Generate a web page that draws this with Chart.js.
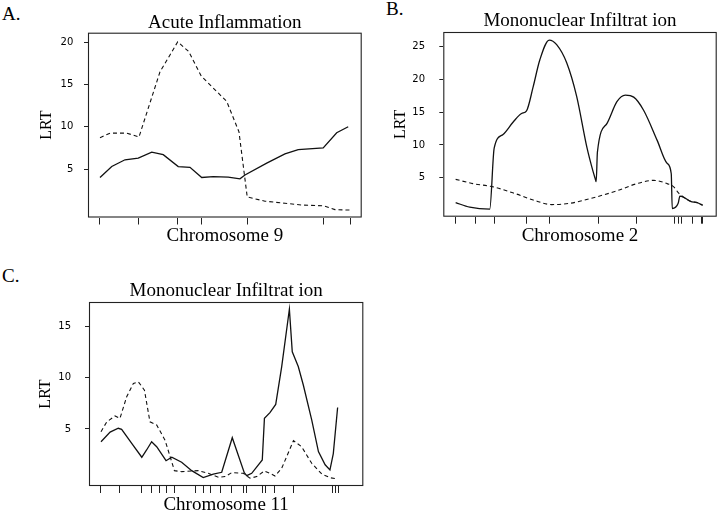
<!DOCTYPE html>
<html>
<head>
<meta charset="utf-8">
<script src="https://cdn.jsdelivr.net/npm/chart.js@4.4.1/dist/chart.umd.min.js"></script>
<style>
  html, body { margin: 0; padding: 0; background: #fff; width: 720px; height: 512px; overflow: hidden; }
  canvas { position: absolute; }
  .lbl { position: absolute; font: 19px 'Liberation Serif', 'Times New Roman', serif; line-height: 1; color: #000; }
</style>
</head>
<body>
<div class="lbl" style="left:2px;top:3.5px">A.</div>
<div class="lbl" style="left:386px;top:-1px">B.</div>
<div class="lbl" style="left:2px;top:265.5px">C.</div>
<canvas id="panelA" width="372" height="250" style="left:0;top:0"></canvas>
<canvas id="panelB" width="360" height="250" style="left:360px;top:0"></canvas>
<canvas id="panelC" width="372" height="262" style="left:0;top:260px"></canvas>
<script>
// positions along the chromosome, 0..100 = first..last marker
const A_MARKERS = [0, 15.6, 31.1, 40.5, 59.1, 89.5, 100.1];
const A_SOLID_X = [0, 4.7, 10, 15.3, 20.7, 25.3, 31.3, 36, 40.7, 45.3, 51.3, 56, 58, 66.7, 74, 79.3, 89.3, 94.7, 99.3];
const A_SOLID_Y = [4.0, 5.3, 6.1, 6.3, 7.0, 6.7, 5.3, 5.2, 4.0, 4.1, 4.05, 3.85, 4.3, 5.7, 6.8, 7.3, 7.5, 9.3, 10.0];
const A_DASH_X = [0, 4, 10.7, 15.6, 24, 28, 31.1, 35.5, 40.5, 50.7, 55.6, 58.9, 66, 74, 80.7, 89.5, 94, 100];
const A_DASH_Y = [8.7, 9.25, 9.25, 8.8, 16.5, 18.5, 20.05, 18.9, 16.0, 13.0, 9.4, 1.7, 1.2, 0.95, 0.75, 0.65, 0.2, 0.15];
const A_YTICKS = [5, 10, 15, 20];

const B_MARKERS = [0, 8.1, 15.9, 28.7, 38.1, 57.9, 73.3, 88.8, 90.2, 91.3, 95.9, 99.4, 100];
const B_SOLID_X = [0, 5.7, 13.8, 15.6, 19.2, 23.3, 26.7, 28.7, 31.4, 34.1, 37.9, 40.9, 45, 49, 53.1, 55.6, 56.4, 56.9, 57.4, 61.3, 65.3, 68.7, 72.1, 76.1, 81.6, 85.6, 87.3, 87.7, 90.1, 90.8, 92.4, 95.1, 97.8, 100];
const B_SOLID_Y = [1.2, 0.5, 0.2, 9.5, 11.6, 13.5, 14.8, 15.2, 18.9, 23, 26.0, 25.3, 22.5, 17.4, 9.7, 6.0, 5.0, 4.4, 8.9, 13.3, 16.6, 17.6, 17.3, 15.3, 10.7, 7.2, 5.6, 0.3, 1.1, 2.2, 2.0, 1.4, 1.2, 0.8];
const B_DASH_X = [0, 7, 15.2, 24.7, 31.4, 38.9, 46.3, 55.8, 65.3, 73.4, 80.2, 85.6, 88.3, 90.4, 92.4, 95.1, 97.8, 100];
const B_DASH_Y = [4.75, 4.1, 3.6, 2.5, 1.6, 0.9, 1.1, 1.95, 3.0, 4.1, 4.6, 4.1, 3.6, 2.6, 2.0, 1.4, 1.2, 0.8];
const B_YTICKS = [5, 10, 15, 20, 25];

const C_MARKERS = [0, 8.3, 17.4, 21.5, 24.6, 27.5, 31, 39.6, 43, 46.1, 50.4, 54.9, 59.7, 61.1, 67.8, 68.8, 72.9, 80.6, 97, 98.1, 99.2];
const C_SOLID_X = [0.4, 4.2, 7.6, 9, 13.2, 17.4, 19.4, 21.5, 23.6, 27.5, 29.9, 34, 38.2, 43, 47.2, 50.7, 55.1, 60.1, 61.1, 63.2, 67.6, 68.5, 70.8, 73.2, 75.7, 78.9, 80.1, 82.6, 84.7, 88.2, 91, 93.8, 95.8, 97.2, 99];
const C_SOLID_Y = [3.76, 4.7, 5.07, 4.97, 3.6, 2.24, 2.95, 3.76, 3.27, 1.9, 2.24, 1.75, 0.93, 0.25, 0.6, 0.77, 4.15, 0.74, 0.44, 0.67, 1.97, 6.04, 6.6, 7.4, 11.1, 16.7, 12.55, 11.1, 9.3, 5.9, 2.8, 1.5, 1.0, 2.6, 7.1];
const C_DASH_X = [0.4, 2.8, 6.25, 8.3, 11.1, 13.9, 16, 18.5, 20.8, 23.6, 27.1, 31, 34, 41, 45.1, 49.3, 52.1, 54.9, 59.7, 62.5, 65.3, 68.5, 70.8, 72.9, 75.7, 80.6, 84, 88.2, 92.4, 95.8, 99];
const C_DASH_Y = [4.74, 5.7, 6.27, 6.04, 8.15, 9.46, 9.6, 8.8, 5.7, 5.4, 3.9, 0.93, 0.83, 0.93, 0.67, 0.28, 0.35, 0.74, 0.67, 0.19, 0.35, 0.9, 0.67, 0.41, 1.16, 3.86, 3.27, 1.65, 0.6, 0.24, 0.12];
const C_YTICKS = [5, 10, 15];

const serif = "'Liberation Serif', 'Times New Roman', serif";

function pts(xs, ys) {
  return xs.map((x, i) => ({x: x, y: ys[i]}));
}

// frame around the plot area
const boxPlugin = {
  id: 'box',
  afterDraw(chart) {
    const a = chart.chartArea, c = chart.ctx;
    c.save();
    c.strokeStyle = '#222';
    c.lineWidth = 1.1;
    c.strokeRect(a.left + 0.5, a.top + 0.5, a.right - a.left - 1, a.bottom - a.top - 1);
    c.restore();
  }
};

function panel(id, p) {
  new Chart(document.getElementById(id), {
    type: 'line',
    data: {
      datasets: [{
        data: pts(p.solidX, p.solidY),
        borderColor: '#111',
        borderWidth: 1.3,
        pointRadius: 0,
        tension: 0,
        cubicInterpolationMode: p.smooth ? 'monotone' : 'default'
      }, {
        data: pts(p.dashX, p.dashY),
        borderColor: '#111',
        borderWidth: 1.1,
        borderDash: [4, 3],
        pointRadius: 0,
        tension: 0,
        cubicInterpolationMode: p.smooth ? 'monotone' : 'default'
      }]
    },
    options: {
      responsive: false,
      animation: false,
      layout: { padding: { left: 0, right: p.padRight, top: 0, bottom: 0 } },
      plugins: {
        legend: { display: false },
        tooltip: { enabled: false },
        title: {
          display: true,
          text: p.title,
          fullSize: false,
          color: '#000',
          font: { family: serif, size: 19, weight: 'normal', lineHeight: 1 },
          padding: { top: p.titleTop, bottom: p.titleBottom }
        }
      },
      scales: {
        x: {
          type: 'linear',
          min: p.xMin,
          max: p.xMax,
          afterBuildTicks: (s) => { s.ticks = p.markers.map(v => ({value: v})); },
          afterFit: (s) => { s.height = p.xHeight; },
          ticks: { display: false, autoSkip: false },
          grid: { drawOnChartArea: false, drawTicks: true, tickLength: 7, color: '#222', lineWidth: 1 },
          border: { display: false },
          title: {
            display: true,
            text: p.xTitle,
            color: '#000',
            font: { family: serif, size: 19, lineHeight: 1.2 },
            padding: { top: 0, bottom: p.xTitlePad }
          }
        },
        y: {
          min: p.yMin,
          max: p.yMax,
          afterBuildTicks: (s) => { s.ticks = p.yTicks.map(v => ({value: v})); },
          afterFit: (s) => { s.width = p.yWidth; },
          ticks: { color: '#000', padding: p.yLabelPad, font: { family: "'DejaVu Sans', sans-serif", size: 10 } },
          grid: { drawOnChartArea: false, drawTicks: true, tickLength: 4, color: '#222', lineWidth: 1 },
          border: { display: false },
          title: {
            display: true,
            text: 'LRT',
            color: '#000',
            font: { family: serif, size: 16, lineHeight: 1.2 },
            padding: { top: p.yTitlePad, bottom: 0 }
          }
        }
      }
    },
    plugins: [boxPlugin]
  });
}

panel('panelA', {
  title: 'Acute Inflammation', xTitle: 'Chromosome 9',
  solidX: A_SOLID_X, solidY: A_SOLID_Y, dashX: A_DASH_X, dashY: A_DASH_Y,
  markers: A_MARKERS, yTicks: A_YTICKS, smooth: false,
  xMin: -4.8, xMax: 104.7, yMin: -0.73, yMax: 21.13,
  padRight: 10.3, yWidth: 88, xHeight: 32.5,
  titleTop: 13.5, titleBottom: 0.2, xTitlePad: 2.1, yTitlePad: 37.6, yLabelPad: 10.7
});

panel('panelB', {
  title: 'Mononuclear Infiltrat ion', xTitle: 'Chromosome 2',
  solidX: B_SOLID_X, solidY: B_SOLID_Y, dashX: B_DASH_X, dashY: B_DASH_Y,
  markers: B_MARKERS, yTicks: B_YTICKS, smooth: true,
  xMin: -5.0, xMax: 105.7, yMin: -0.95, yMax: 27.24,
  padRight: 3.3, yWidth: 83.3, xHeight: 33.3,
  titleTop: 12, titleBottom: 1, xTitlePad: 2.1, yTitlePad: 31.2, yLabelPad: 14.3
});

panel('panelC', {
  title: 'Mononuclear Infiltrat ion', xTitle: 'Chromosome 11',
  solidX: C_SOLID_X, solidY: C_SOLID_Y, dashX: C_DASH_X, dashY: C_DASH_Y,
  markers: C_MARKERS, yTicks: C_YTICKS, smooth: false,
  xMin: -4.6, xMax: 109.7, yMin: -0.57, yMax: 17.41,
  padRight: 8.7, yWidth: 89, xHeight: 36,
  titleTop: 21.5, titleBottom: 1.5, xTitlePad: 5.6, yTitlePad: 36.2, yLabelPad: 14
});
</script>
</body>
</html>
